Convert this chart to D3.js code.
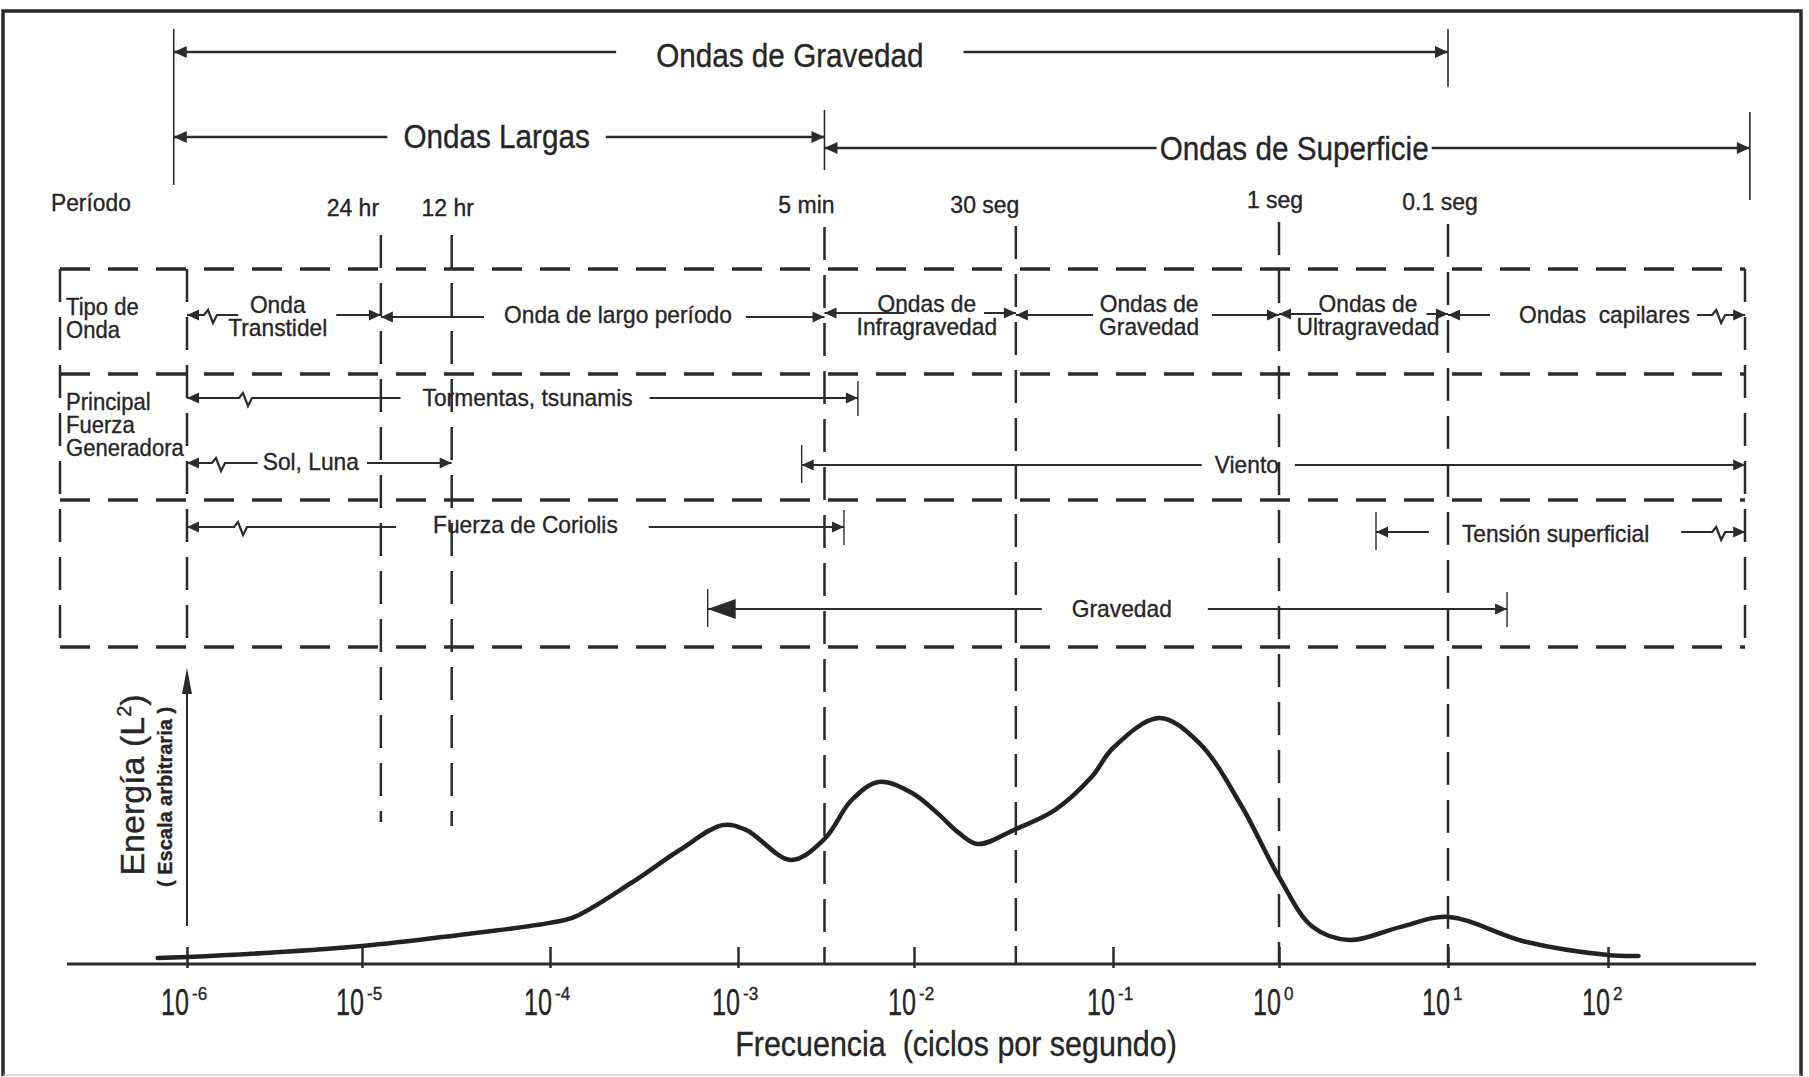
<!DOCTYPE html>
<html lang="es">
<head>
<meta charset="UTF-8">
<title>Espectro de energía de las ondas</title>
<script src="https://d3js.org/d3.v7.min.js"></script>
<style>
  body { margin: 0; background: #fff; }
  svg { display: block; font-family: "Liberation Sans", Arial, sans-serif; }
  text { fill: #262626; stroke: #262626; stroke-width: 0.35px; }
</style>
</head>
<body>
<svg width="1809" height="1077"></svg>
<script>
// eje de frecuencias (Hz): marcas y su posición en la figura (escala dibujada a mano)
const tickFreqs = [1e-6, 1e-5, 1e-4, 1e-3, 1e-2, 1e-1, 1e0, 1e1, 1e2];
const tickExps  = ["-6", "-5", "-4", "-3", "-2", "-1", "0", "1", "2"];
const tickPx    = [187, 362, 550, 738, 914, 1113, 1279, 1448, 1608];

// curva de energía (escala arbitraria 0-100)
const curveFreq   = [6.8e-7, 1e-6, 1e-5, 3.3e-5, 1e-4, 1.35e-4, 2.7e-4, 4.9e-4, 8.3e-4, 1.11e-3,
                     2.0e-3, 3.1e-3, 4.4e-3, 6.3e-3, 9.75e-3, 0.0131, 0.0168, 0.021, 0.0325, 0.051,
                     0.078, 0.1, 0.19, 0.33, 0.59, 1, 1.58, 2.6, 5.2, 10, 30, 100, 155];
const curveEnergy = [2.0, 2.3, 6.0, 9.7, 13.7, 15.7, 27, 38, 46.3, 44.7,
                     34.7, 41.7, 54.5, 60.7, 57, 50.3, 43.7, 40, 45, 51.3,
                     62.3, 72, 82, 73.7, 53, 29, 12.4, 8, 12.3, 15.7, 7.5, 3.0, 2.7];

// períodos marcados
const periodLabels = ["24 hr", "12 hr", "5 min", "30 seg", "1 seg", "0.1 seg"];
const periodFreqs  = [1.26e-5, 3.0e-5, 3.1e-3, 0.0325, 1, 10];

// bandas superiores
const topLabels = ["Ondas de Gravedad", "Ondas Largas", "Ondas de Superficie"];
const topLo     = [8.4e-7, 8.4e-7, 3.1e-3];
const topHi     = [10, 3.1e-3, 770];
const topMid    = [1.97e-3, 5.2e-5, 1.23];

// cuadro: tipo de onda y fuerzas generadoras
const rowLabels = [["Tipo de", "Onda"], ["Principal", "Fuerza", "Generadora"]];
const arrowLabels = [["Onda", "Transtidel"], ["Onda de largo período"], ["Ondas de", "Infragravedad"],
                     ["Ondas de", "Gravedad"], ["Ondas de", "Ultragravedad"], ["Ondas  capilares"],
                     ["Tormentas, tsunamis"], ["Sol, Luna"], ["Viento"],
                     ["Fuerza de Coriolis"], ["Tensión superficial"], ["Gravedad"]];
const arrowLo  = [1e-6, 1.26e-5, 3.1e-3, 0.0325, 1, 10, 1e-6, 1e-6, 2.3e-3, 1e-6, 3.75, 6.9e-4];
const arrowHi  = [1.26e-5, 3.1e-3, 0.0325, 1, 10, 720, 4.8e-3, 3.0e-5, 720, 4.0e-3, 720, 23.4];
const arrowMid = [3.3e-6, 2.3e-4, 0.0116, 0.165, 3.36, 95, 7.6e-5, 5.1e-6, 0.64, 7.4e-5, 47, 0.113];

// ---- maquetación ----
const W = 1809, H = 1077;
const axisY = 964;
const topY = [52, 137, 148], topBase = [67, 148, 160], topGap = [40, 16, 3];
const topBounds = [[8.4e-7, 29, 185], [10, 29, 87], [3.1e-3, 110, 170], [770, 112, 200]];
const periodTop = [235, 235, 227, 226, 222, 224];
const periodBot = [822, 826, axisY, axisY, axisY, axisY];
const periodBase = [216, 216, 213, 213, 208, 210];
const periodDx = [-28, -4, -18, -31, -4, -8];
const tableL = 60, tableR = 1745, tableRows = [269, 374, 500, 647];
const rowLabelBase = [[315, 338], [410, 433, 456]];
const arrowY    = [315, 317, 313, 315, 314, 315, 398, 463, 465, 527, 532, 609];
const arrowBase = [313, 323, 312, 312, 312, 323, 406, 470, 473, 533, 542, 617];
const gapL = [-10, 20, -48, 6, -25, 29, 22, 5, 13, 37, 33, 30];
const gapR = [9, 14, -13, 13, -13, 7, 17, 8, 16, 31, 32, 36];
const endL = ["ab", "a", "a", "a", "a", "a", "ab", "ab", "at", "ab", "at", "At"];
const endR = ["a", "a", "a", "a", "a", "ba", "at", "a", "a", "at", "ba", "at"];
const brk  = [17, 0, 0, 0, 0, 20, 52, 25, 0, 47, 20, 0];
const ink = "#2b2b2b";

const svg = d3.select("svg");
svg.append("rect").attr("width", W).attr("height", H).attr("fill", "#fff");

// escala log por tramos (las décadas no son equidistantes en el original)
const x = d3.scaleLog().domain(tickFreqs).range(tickPx);
const y = d3.scaleLinear().domain([0, 100]).range([axisY, axisY - 300]);

function label(g, px, py, str, size, sx, anchor) {
    return g.append("text")
        .attr("transform", `translate(${px},${py}) scale(${sx},1)`)
        .attr("text-anchor", anchor || "middle")
        .attr("font-size", size)
        .style("white-space", "pre")
        .text(str);
}

function head(g, tip, py, dir, len, hw) {
    g.append("path")
        .attr("d", `M${tip},${py}L${tip + dir * len},${py - hw}L${tip + dir * len},${py + hw}Z`)
        .attr("fill", ink);
}

// marco
const frame = svg.append("g").attr("stroke", ink).attr("fill", "none");
frame.append("path").attr("d", `M3,1076V11H1801V1076`).attr("stroke-width", 3.5);
frame.append("line").attr("x1", 3).attr("x2", 1801).attr("y1", 1075).attr("y2", 1075)
    .attr("stroke", "#bbb").attr("stroke-width", 1);

// bandas superiores
const gTop = svg.append("g");
topBounds.forEach(b => {
    gTop.append("line").attr("x1", x(b[0])).attr("x2", x(b[0])).attr("y1", b[1]).attr("y2", b[2])
        .attr("stroke", ink).attr("stroke-width", 1.6);
});
topLabels.forEach((t, i) => {
    const cx = x(topMid[i]);
    const tx = label(gTop, cx, topBase[i], t, 33, 0.9);
    const w = tx.node().getComputedTextLength() * 0.9;
    const a = x(topLo[i]), b = x(topHi[i]);
    gTop.append("path")
        .attr("d", `M${a},${topY[i]}H${cx - w / 2 - topGap[i]}M${cx + w / 2 + topGap[i]},${topY[i]}H${b}`)
        .attr("stroke", ink).attr("stroke-width", 2.6).attr("fill", "none");
    head(gTop, a, topY[i], 1, 13, 6);
    head(gTop, b, topY[i], -1, 13, 6);
});

// períodos
const gPer = svg.append("g");
label(gPer, 51, 211, "Período", 24, 0.95, "start");
periodLabels.forEach((t, i) => {
    const px = x(periodFreqs[i]);
    label(gPer, px + periodDx[i], periodBase[i], t, 23, 1);
    gPer.append("line").attr("x1", px).attr("x2", px)
        .attr("y1", periodTop[i]).attr("y2", periodBot[i])
        .attr("stroke", ink).attr("stroke-width", 2.5).attr("stroke-dasharray", "33,15");
});
// línea de 10^-6 dentro del cuadro
gPer.append("line").attr("x1", x(1e-6)).attr("x2", x(1e-6))
    .attr("y1", tableRows[0]).attr("y2", tableRows[3])
    .attr("stroke", ink).attr("stroke-width", 2.5).attr("stroke-dasharray", "33,15");

// cuadro punteado
const gTab = svg.append("g").attr("stroke", ink).attr("fill", "none");
tableRows.forEach(ry => {
    gTab.append("line").attr("x1", tableL).attr("x2", tableR).attr("y1", ry).attr("y2", ry)
        .attr("stroke-width", 3.5).attr("stroke-dasharray", "30,18");
});
[tableL, tableR].forEach(tx => {
    gTab.append("line").attr("x1", tx).attr("x2", tx).attr("y1", tableRows[0]).attr("y2", tableRows[3])
        .attr("stroke-width", 2.5).attr("stroke-dasharray", "33,15");
});
const gRowLab = svg.append("g");
rowLabels.forEach((lines, r) => {
    lines.forEach((t, k) => label(gRowLab, 66, rowLabelBase[r][k], t, 24, 0.92, "start"));
});

// flechas del cuadro
const gArr = svg.append("g");
arrowLabels.forEach((lines, i) => {
    const cx = x(arrowMid[i]), ay = arrowY[i];
    let w = 0;
    lines.forEach((t, k) => {
        const tx = label(gArr, cx, arrowBase[i] + k * 23, t, 24.5, 0.93);
        w = Math.max(w, tx.node().getComputedTextLength() * 0.93);
    });
    const a = x(arrowLo[i]), b = x(arrowHi[i]);
    const la = cx - w / 2 - gapL[i], rb = cx + w / 2 + gapR[i];
    let d = `M${a},${ay}`;
    if (endL[i].includes("b")) d += `H${a + brk[i]}l4,-5l5,13l4,-8`;
    d += `H${la}M${rb},${ay}`;
    if (endR[i].includes("b")) d += `H${b - brk[i] - 13}l4,-5l5,13l4,-8`;
    d += `H${b}`;
    gArr.append("path").attr("d", d).attr("stroke", ink).attr("stroke-width", 2.2).attr("fill", "none");
    if (endL[i].includes("A")) head(gArr, a, ay, 1, 28, 10);
    else head(gArr, a, ay, 1, 12, 5.5);
    head(gArr, b, ay, -1, 12, 5.5);
    if (endL[i].includes("t")) gArr.append("line").attr("x1", a).attr("x2", a)
        .attr("y1", ay - 20).attr("y2", ay + 18).attr("stroke", ink).attr("stroke-width", 1.4);
    if (endR[i].includes("t")) gArr.append("line").attr("x1", b).attr("x2", b)
        .attr("y1", ay - 17).attr("y2", ay + 18).attr("stroke", ink).attr("stroke-width", 1.4);
});

// eje de frecuencias
const gAxis = svg.append("g").attr("transform", `translate(0,${axisY})`);
gAxis.call(d3.axisBottom(x).tickValues(tickFreqs).tickSizeInner(-17).tickSizeOuter(0).tickFormat(""));
gAxis.select(".domain").remove();
gAxis.selectAll(".tick line").attr("stroke", ink).attr("stroke-width", 2.5).attr("y2", -17).attr("y1", 4);
svg.append("line").attr("x1", 67).attr("x2", 1756).attr("y1", axisY).attr("y2", axisY)
    .attr("stroke", ink).attr("stroke-width", 3.2);
const gTick = svg.append("g");
tickFreqs.forEach((f, i) => {
    const px = x(f);
    label(gTick, px + 2, 1015, "10", 37, 0.68, "end");
    label(gTick, px + 5, 1000, tickExps[i], 18, 0.95, "start");
});
label(svg, 956, 1056, "Frecuencia  (ciclos por segundo)", 35, 0.87);

// eje de energía
svg.append("line").attr("x1", x(1e-6)).attr("x2", x(1e-6)).attr("y1", 926).attr("y2", 690)
    .attr("stroke", ink).attr("stroke-width", 2);
svg.append("path")
    .attr("d", `M${x(1e-6)},668L${x(1e-6) - 5},694L${x(1e-6) + 5},694Z`).attr("fill", ink);
const yl = svg.append("text").attr("transform", "translate(144,785) rotate(-90)")
    .attr("text-anchor", "middle").attr("font-size", 34);
yl.append("tspan").text("Energía (L");
yl.append("tspan").attr("font-size", 20).attr("dy", -13).text("2");
yl.append("tspan").attr("dy", 13).text(")");
svg.append("text").attr("transform", "translate(172,797) rotate(-90)")
    .attr("text-anchor", "middle").attr("font-size", 20).attr("font-weight", "bold")
    .style("white-space", "pre").text("( Escala arbitraria )");

// curva
const pts = curveFreq.map((f, i) => [f, curveEnergy[i]]);
svg.append("path").datum(pts)
    .attr("d", d3.line().x(d => x(d[0])).y(d => y(d[1])).curve(d3.curveCatmullRom.alpha(0.5)))
    .attr("fill", "none").attr("stroke", "#222").attr("stroke-width", 4.5)
    .attr("stroke-linejoin", "round").attr("stroke-linecap", "round");
</script>
</body>
</html>
